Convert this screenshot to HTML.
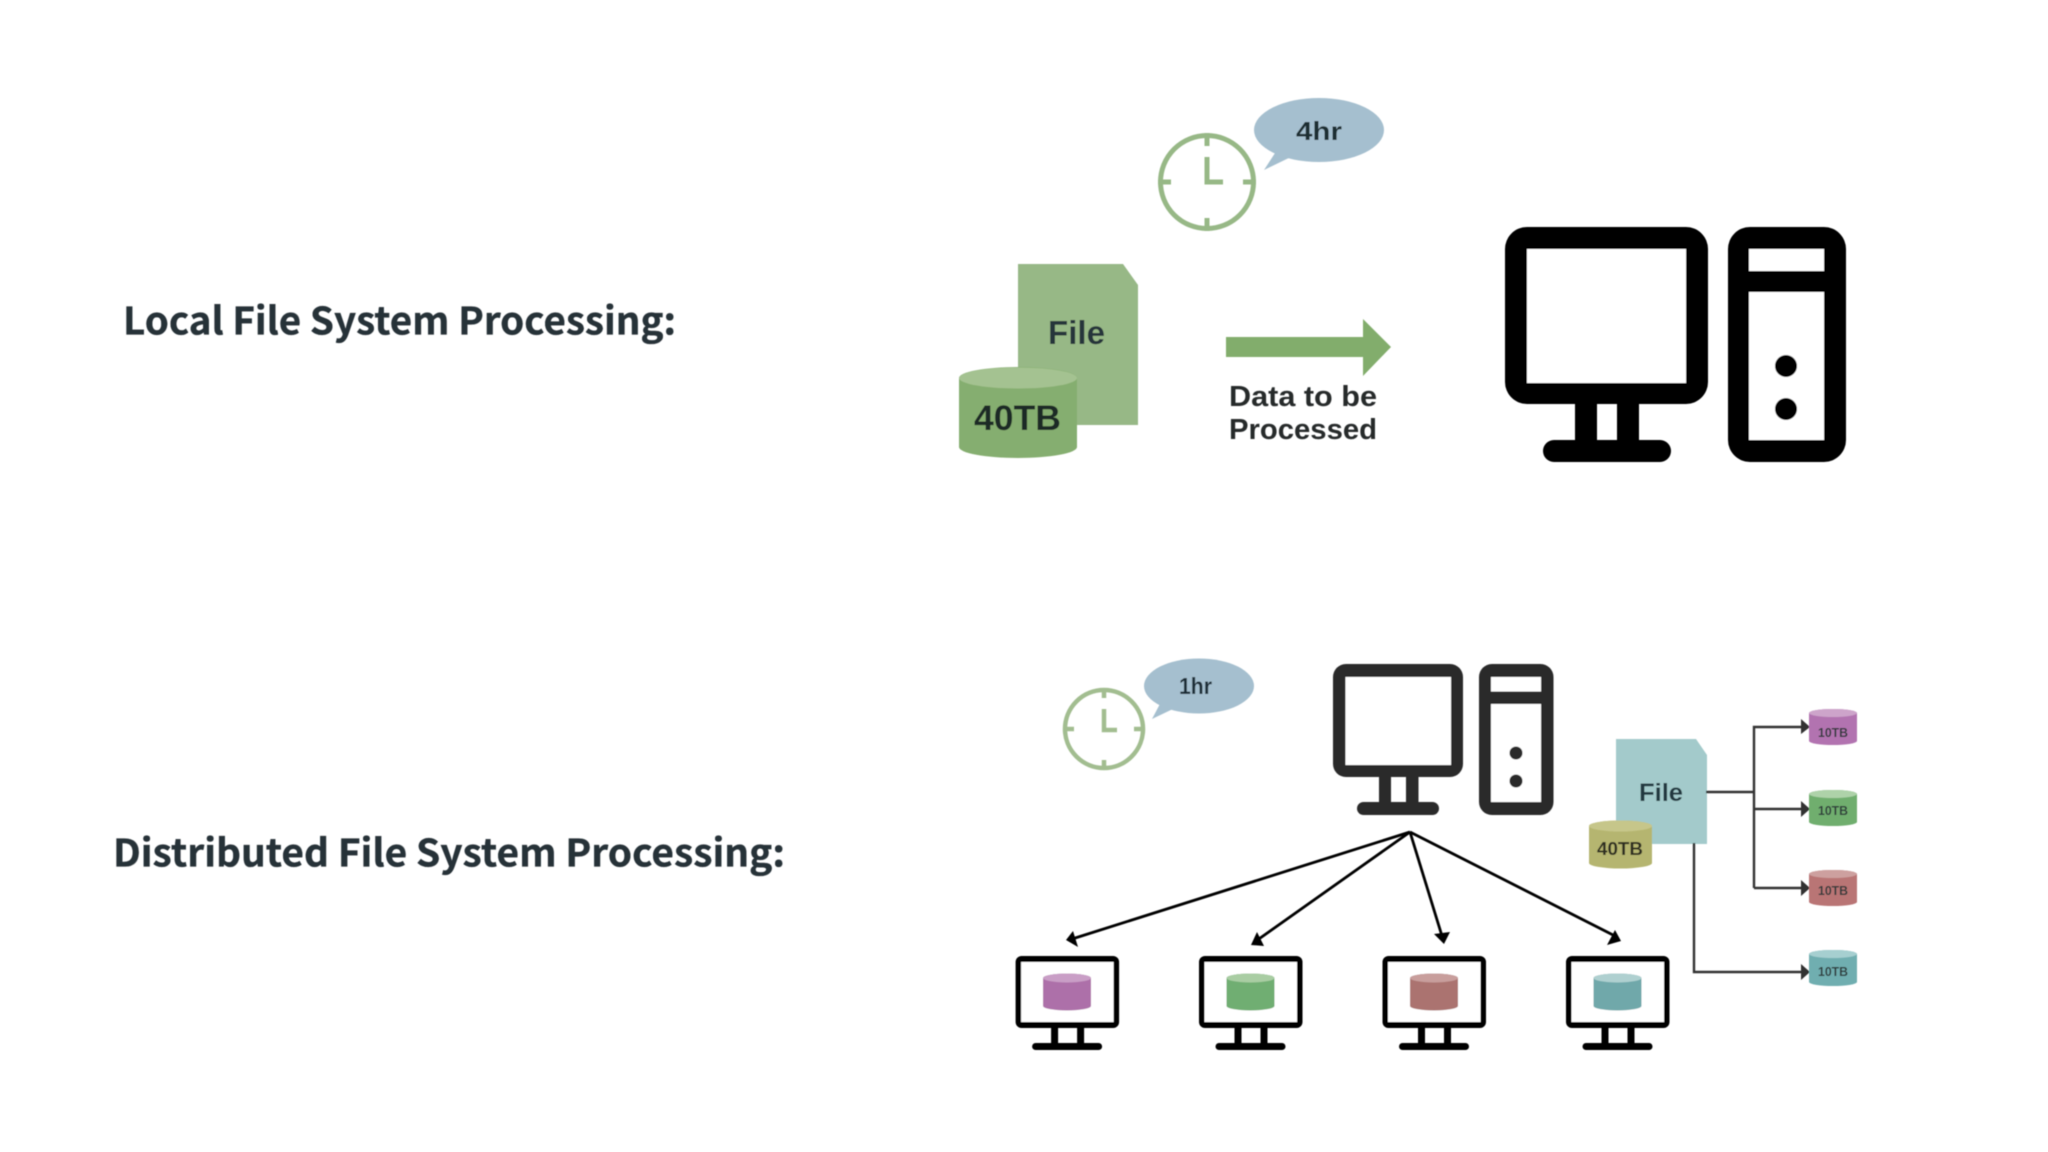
<!DOCTYPE html>
<html><head><meta charset="utf-8"><style>
html,body{margin:0;padding:0;background:#fff;width:2048px;height:1152px;overflow:hidden}
svg{display:block}
text{font-family:"Liberation Sans",sans-serif;font-weight:700}
text.t{font-family:"Noto Sans CJK SC","Liberation Sans",sans-serif;font-weight:700;stroke:#283238;stroke-width:.35}
</style></head><body>
<svg width="2048" height="1152" viewBox="0 0 2048 1152" xmlns="http://www.w3.org/2000/svg">
<rect width="2048" height="1152" fill="#fff"/>
<defs>
<filter id="b" x="0" y="0" width="100%" height="100%" filterUnits="userSpaceOnUse" primitiveUnits="userSpaceOnUse"><feGaussianBlur stdDeviation="0.6"/></filter>
<g id="mon">
<rect x="0" y="0" width="103.5" height="72" rx="6" fill="#000"/>
<rect x="5.5" y="6" width="92.5" height="60" fill="#fff"/>
<rect x="35.5" y="70" width="7" height="18" fill="#000"/>
<rect x="61.5" y="70" width="7" height="18" fill="#000"/>
<rect x="16.5" y="87" width="70" height="7" rx="3.5" fill="#000"/>
</g>
</defs>
<g filter="url(#b)">
<!-- Titles -->
<text class="t" x="123" y="334.5" font-size="38" fill="#283238" textLength="553" lengthAdjust="spacingAndGlyphs">Local File System Processing:</text>
<text class="t" x="113" y="866.5" font-size="38" fill="#283238" textLength="672" lengthAdjust="spacingAndGlyphs">Distributed File System Processing:</text>

<!-- Top clock -->
<g fill="none" stroke="#97b886" stroke-width="5">
<circle cx="1207" cy="182" r="46.5"/>
<path d="M1207 133V146M1207 218V231M1158 182H1171M1243 182H1256"/>
<path d="M1207 157V182H1223"/>
</g>
<path d="M1264 170L1277 150L1295 155Z" fill="#a5bfcf"/>
<ellipse cx="1319" cy="130" rx="65" ry="32" fill="#a5bfcf"/>
<text x="1296" y="140" font-size="26" fill="#1f2d33" textLength="46" lengthAdjust="spacingAndGlyphs">4hr</text>

<!-- Top file -->
<path d="M1018 264H1123L1138 285V425H1018Z" fill="#97b886"/>
<text x="1048" y="344" font-size="33" fill="#25343a" textLength="57" lengthAdjust="spacingAndGlyphs">File</text>
<path d="M959 378A59 11 0 0 1 1077 378V447A59 11 0 0 1 959 447Z" fill="#85ae6f"/>
<ellipse cx="1018" cy="378" rx="59" ry="10.5" fill="#a4c291"/>
<text x="974" y="430" font-size="35" fill="#1f2a26" textLength="87" lengthAdjust="spacingAndGlyphs">40TB</text>

<!-- Top arrow -->
<path d="M1226 337H1363V319L1391 347L1363 376V357H1226Z" fill="#82ad6c"/>
<text x="1229" y="406" font-size="29" fill="#25292b" textLength="148" lengthAdjust="spacingAndGlyphs">Data to be</text>
<text x="1229" y="439" font-size="29" fill="#25292b" textLength="148" lengthAdjust="spacingAndGlyphs">Processed</text>

<!-- Big computer -->
<rect x="1505" y="227" width="203" height="177" rx="22" fill="#000"/>
<rect x="1527" y="249" width="159" height="134" fill="#fff"/>
<rect x="1575" y="400" width="22" height="45" fill="#000"/>
<rect x="1617" y="400" width="22" height="45" fill="#000"/>
<rect x="1543" y="440" width="128" height="22" rx="11" fill="#000"/>
<rect x="1728" y="227" width="118" height="235" rx="22" fill="#000"/>
<rect x="1749" y="249" width="75" height="22" fill="#fff"/>
<rect x="1749" y="292" width="75" height="148" fill="#fff"/>
<circle cx="1786" cy="366" r="11" fill="#000"/>
<circle cx="1786" cy="409" r="11" fill="#000"/>

<!-- Bottom clock -->
<g fill="none" stroke="#a2bd90" stroke-width="4.5">
<circle cx="1104" cy="729" r="39"/>
<path d="M1104 688V698M1104 760V770M1063 729H1074M1134 729H1145"/>
<path d="M1104 709V730H1117"/>
</g>
<path d="M1152 719L1161 702L1175 708Z" fill="#a5bfcf"/>
<ellipse cx="1199" cy="686" rx="55" ry="27.5" fill="#a5bfcf"/>
<text x="1179" y="694" font-size="23.5" fill="#1f2d38" textLength="33" lengthAdjust="spacingAndGlyphs">1hr</text>

<!-- Bottom computer -->
<g fill="#2b2b2b">
<rect x="1333" y="664" width="130" height="113" rx="13"/>
<rect x="1379" y="770" width="12" height="38"/>
<rect x="1406" y="770" width="12.5" height="38"/>
<rect x="1357" y="802" width="82" height="13" rx="6.5"/>
<rect x="1479" y="664" width="74.5" height="151" rx="13"/>
</g>
<rect x="1345.5" y="677" width="105.5" height="88" fill="#fff"/>
<rect x="1491" y="677" width="50" height="14.5" fill="#fff"/>
<rect x="1491" y="704" width="50" height="98" fill="#fff"/>
<circle cx="1516" cy="753" r="6.5" fill="#2b2b2b"/>
<circle cx="1516" cy="781" r="6.5" fill="#2b2b2b"/>

<!-- Tree arrows -->
<g stroke="#000" stroke-width="2.8" fill="none">
<path d="M1410 832L1072 939"/>
<path d="M1410 832L1256 941"/>
<path d="M1410 832L1442 936"/>
<path d="M1410 832L1615 936"/>
</g>
<g fill="#000">
<polygon points="1066,940 1073,931 1078,947"/>
<polygon points="1251,945 1257,932 1264,946"/>
<polygon points="1444,944 1434,934 1450,932"/>
<polygon points="1621,941 1615,930 1607,945"/>
</g>

<!-- Small monitors -->
<use href="#mon" x="1015.6" y="956"/>
<use href="#mon" x="1199" y="956"/>
<use href="#mon" x="1382.5" y="956"/>
<use href="#mon" x="1566" y="956"/>

<path d="M1043 978A24 4.5 0 0 1 1091 978V1006A24 4.5 0 0 1 1043 1006Z" fill="#ad6fa9"/>
<ellipse cx="1067" cy="978" rx="24" ry="4.5" fill="#c99ec6"/>
<path d="M1226.5 978A24 4.5 0 0 1 1274.5 978V1006A24 4.5 0 0 1 1226.5 1006Z" fill="#70ae72"/>
<ellipse cx="1250.5" cy="978" rx="24" ry="4.5" fill="#a9cda3"/>
<path d="M1410 978A24 4.5 0 0 1 1458 978V1006A24 4.5 0 0 1 1410 1006Z" fill="#ab7370"/>
<ellipse cx="1434" cy="978" rx="24" ry="4.5" fill="#c89e9c"/>
<path d="M1593.5 978A24 4.5 0 0 1 1641.5 978V1006A24 4.5 0 0 1 1593.5 1006Z" fill="#6fa8aa"/>
<ellipse cx="1617.5" cy="978" rx="24" ry="4.5" fill="#afd0d0"/>

<!-- Bottom file -->
<path d="M1616 739H1696L1707 755V844H1616Z" fill="#a3cacb"/>
<text x="1639" y="801" font-size="25" fill="#21393f" textLength="44" lengthAdjust="spacingAndGlyphs">File</text>
<path d="M1589 826A31.5 5.5 0 0 1 1652 826V863A31.5 5.5 0 0 1 1589 863Z" fill="#b5b56f"/>
<ellipse cx="1620.5" cy="826" rx="31.5" ry="5.5" fill="#c6c68a"/>
<text x="1597" y="855" font-size="18.5" fill="#2d2d22" textLength="46" lengthAdjust="spacingAndGlyphs">40TB</text>

<!-- Branch lines -->
<g fill="none" stroke="#333" stroke-width="2.4">
<path d="M1706 792H1754"/>
<path d="M1754 888V727H1803"/>
<path d="M1754 809H1803"/>
<path d="M1754 888H1803"/>
<path d="M1694 843V972H1803"/>
</g>
<g fill="#333">
<polygon points="1801,719 1810,727 1801,734"/>
<polygon points="1801,801 1810,809 1801,817"/>
<polygon points="1801,880 1810,888 1801,896"/>
<polygon points="1801,964 1810,972 1801,980"/>
</g>

<!-- 10TB cylinders -->
<path d="M1809 713A24 4 0 0 1 1857 713V741A24 4 0 0 1 1809 741Z" fill="#b273b0"/>
<ellipse cx="1833" cy="713" rx="24" ry="4" fill="#cda4ca"/>
<text x="1818" y="737" font-size="13" fill="#2f3a3a" textLength="30" lengthAdjust="spacingAndGlyphs">10TB</text>

<path d="M1809 794A24 4 0 0 1 1857 794V822A24 4 0 0 1 1809 822Z" fill="#6fae6e"/>
<ellipse cx="1833" cy="794" rx="24" ry="4" fill="#aed2a9"/>
<text x="1818" y="815" font-size="13" fill="#2f3a3a" textLength="30" lengthAdjust="spacingAndGlyphs">10TB</text>

<path d="M1809 874A24 4 0 0 1 1857 874V902A24 4 0 0 1 1809 902Z" fill="#b97475"/>
<ellipse cx="1833" cy="874" rx="24" ry="4" fill="#cda09f"/>
<text x="1818" y="895" font-size="13" fill="#2f3a3a" textLength="30" lengthAdjust="spacingAndGlyphs">10TB</text>

<path d="M1809 954A24 4 0 0 1 1857 954V982A24 4 0 0 1 1809 982Z" fill="#70aeb0"/>
<ellipse cx="1833" cy="954" rx="24" ry="4" fill="#a6cfd0"/>
<text x="1818" y="976" font-size="13" fill="#2f3a3a" textLength="30" lengthAdjust="spacingAndGlyphs">10TB</text>
</g>
</svg>
</body></html>
